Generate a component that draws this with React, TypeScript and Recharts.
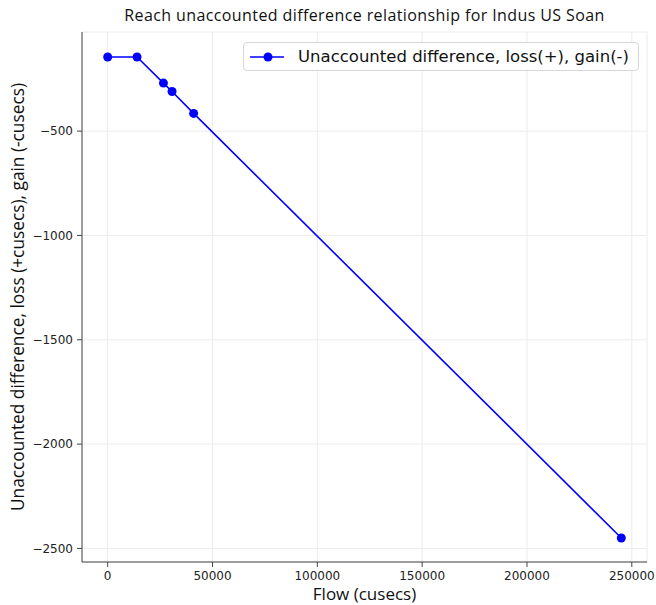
import React from 'react';
import { LineChart, Line, XAxis, YAxis, CartesianGrid, Label } from 'recharts';

const flows = [0, 14000, 26600, 30700, 41000, 245000];
const unaccounted = [-145, -145, -270, -310, -415, -2450];
const xTicks = [0, 50000, 100000, 150000, 200000, 250000];
const yTicks = [-500, -1000, -1500, -2000, -2500];

const seriesName = 'Unaccounted difference, loss(+), gain(-)';
const chartTitle = 'Reach unaccounted difference relationship for Indus US Soan';

const data = flows.map((q, i) => ({ flow: q, diff: unaccounted[i] }));

const FONT = '"Open Sans", sans-serif';
const MPL = '"DejaVu Sans", sans-serif';
const fmt = (v: number) => String(v).replace('-', '\u2212');

const App: React.FC = () => {
    return (
        <div style={{ position: 'absolute', left: 0, top: 0, width: 656, height: 605, background: '#fff' }}>
            <div style={{
                position: 'absolute', top: 4, left: 82, width: 565, textAlign: 'center',
                fontFamily: FONT, fontSize: 16, letterSpacing: 0.4, color: '#111', whiteSpace: 'nowrap',
            }}>{chartTitle}</div>
            <LineChart width={656} height={605} data={data}
                margin={{ top: 32, right: 9, bottom: 0, left: 0 }}>
                <CartesianGrid stroke="#ececec" strokeWidth={1} />
                <XAxis dataKey="flow" type="number" domain={[-12250, 257250]} ticks={xTicks}
                    allowDataOverflow height={43} tickSize={5} tickMargin={4}
                    stroke="#444" tick={{ fill: '#222', fontSize: 12, fontFamily: MPL }}
                    tickFormatter={fmt}>
                    <Label value="Flow (cusecs)" position="insideBottom" offset={5}
                        style={{ fontFamily: FONT, fontSize: 17, fill: '#111' }} />
                </XAxis>
                <XAxis xAxisId="top" orientation="top" dataKey="flow" type="number"
                    domain={[-12250, 257250]} height={0} tick={false} tickLine={false} stroke="#444" />
                <YAxis type="number" domain={[-2565, -25]} ticks={yTicks} allowDataOverflow
                    width={82} tickSize={5} tickMargin={4} stroke="#444"
                    tick={{ fill: '#222', fontSize: 12, fontFamily: MPL }} tickFormatter={fmt}>
                    <Label value="Unaccounted difference, loss (+cusecs), gain (-cusecs)" angle={-90}
                        position="insideLeft" offset={18}
                        style={{ fontFamily: FONT, fontSize: 17.3, fill: '#111', textAnchor: 'middle' }} />
                </YAxis>
                <YAxis yAxisId="right" orientation="right" type="number" domain={[-2565, -25]}
                    width={0} tick={false} tickLine={false} stroke="#444" />
                <Line dataKey="diff" name={seriesName} stroke="#0000ff" strokeWidth={1.6}
                    dot={{ r: 4.5, fill: '#0000ff', stroke: '#0000ff', strokeWidth: 0 }}
                    activeDot={false} isAnimationActive={false} />
            </LineChart>
            <div style={{
                position: 'absolute', top: 42, left: 243, width: 396, height: 29,
                border: '1px solid #d6d6d6', borderRadius: 4, background: '#fff',
                display: 'flex', alignItems: 'center', boxSizing: 'border-box',
            }}>
                <svg width={40} height={14} style={{ marginLeft: 5 }}>
                    <line x1={1} y1={7} x2={35} y2={7} stroke="#0000ff" strokeWidth={1.6} />
                    <circle cx={19} cy={7} r={4.5} fill="#0000ff" />
                </svg>
                <span style={{ fontFamily: MPL, fontSize: 16.5, color: '#111', marginLeft: 9, whiteSpace: 'nowrap' }}>
                    {seriesName}
                </span>
            </div>
        </div>
    );
};

export default App;
